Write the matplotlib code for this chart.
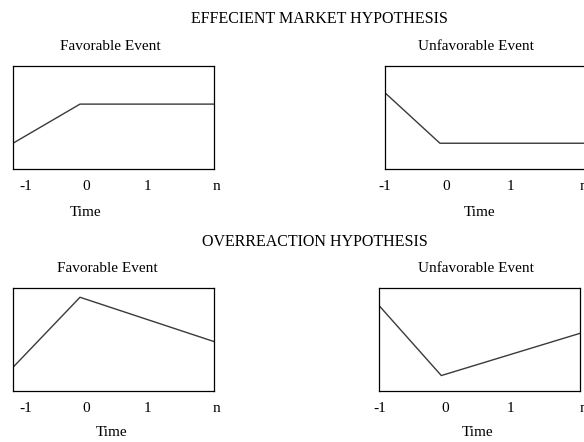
import numpy as np
import matplotlib.pyplot as plt

plt.rcParams['font.family'] = ['Liberation Serif', 'DejaVu Serif']

W, H = 584, 442

# title text
main_titles = ["EFFECIENT MARKET HYPOTHESIS", "OVERREACTION HYPOTHESIS"]
panel_titles = ["Favorable Event", "Unfavorable Event", "Favorable Event", "Unfavorable Event"]
tick_labels = ["-1", "0", "1", "n"]
xlabel = "Time"

# price paths (x = time, y = price level, arbitrary 0..10 scale)
x_fav_emh = [-1, 0, 2]
y_fav_emh = [2.5, 6.3, 6.3]
x_unf_emh = [-1, -0.18, 2]
y_unf_emh = [7.4, 2.5, 2.5]
x_fav_ovr = [-1, 0, 2]
y_fav_ovr = [2.3, 9.1, 4.8]
x_unf_ovr = [-1, -0.07, 2]
y_unf_ovr = [8.3, 1.5, 5.6]

series = [(x_fav_emh, y_fav_emh), (x_unf_emh, y_unf_emh),
          (x_fav_ovr, y_fav_ovr), (x_unf_ovr, y_unf_ovr)]

# layout in pixels: axes box (left, top, width, height), tick label x pixels,
# subtitle centre, "Time" centre
boxes = [(13, 66), (385, 66), (13, 288), (379, 288)]
tick_px = [[26, 86, 147, 216], [385, 446, 510, 583],
           [26, 86, 147, 216], [380, 445, 510, 583]]
sub_pos = [(110, 47), (476, 47), (107, 268), (476, 268)]
time_pos = [(86, 212), (480, 212), (112, 433), (478, 433)]
tick_y = [186, 186, 408, 408]
main_pos = [(319, 19), (315, 242)]

fig = plt.figure(figsize=(W / 100, H / 100), dpi=100)


def fx(px):
    return px / W


def fy(py):
    return 1 - py / H


for i, (x, y) in enumerate(series):
    left, top = boxes[i]
    ax = fig.add_axes([fx(left), fy(top + 103), 201 / W, 103 / H])
    ax.plot(x, y, color='#3a3a3a', lw=1.0)
    ax.set_xlim(-1, 2)
    ax.set_ylim(0, 10)
    ax.set_xticks([])
    ax.set_yticks([])
    for s in ax.spines.values():
        s.set_linewidth(0.9)
        s.set_color('black')
    for lab, px in zip(tick_labels, tick_px[i]):
        fig.text(fx(px), fy(tick_y[i]), lab, ha='center', va='center', fontsize=11)
    fig.text(fx(sub_pos[i][0]), fy(sub_pos[i][1]), panel_titles[i],
             ha='center', va='center', fontsize=11)
    fig.text(fx(time_pos[i][0]), fy(time_pos[i][1]), xlabel,
             ha='center', va='center', fontsize=11)

for t, (px, py) in zip(main_titles, main_pos):
    fig.text(fx(px), fy(py), t, ha='center', va='center', fontsize=11.5)

fig.savefig("out.png", dpi=100)
